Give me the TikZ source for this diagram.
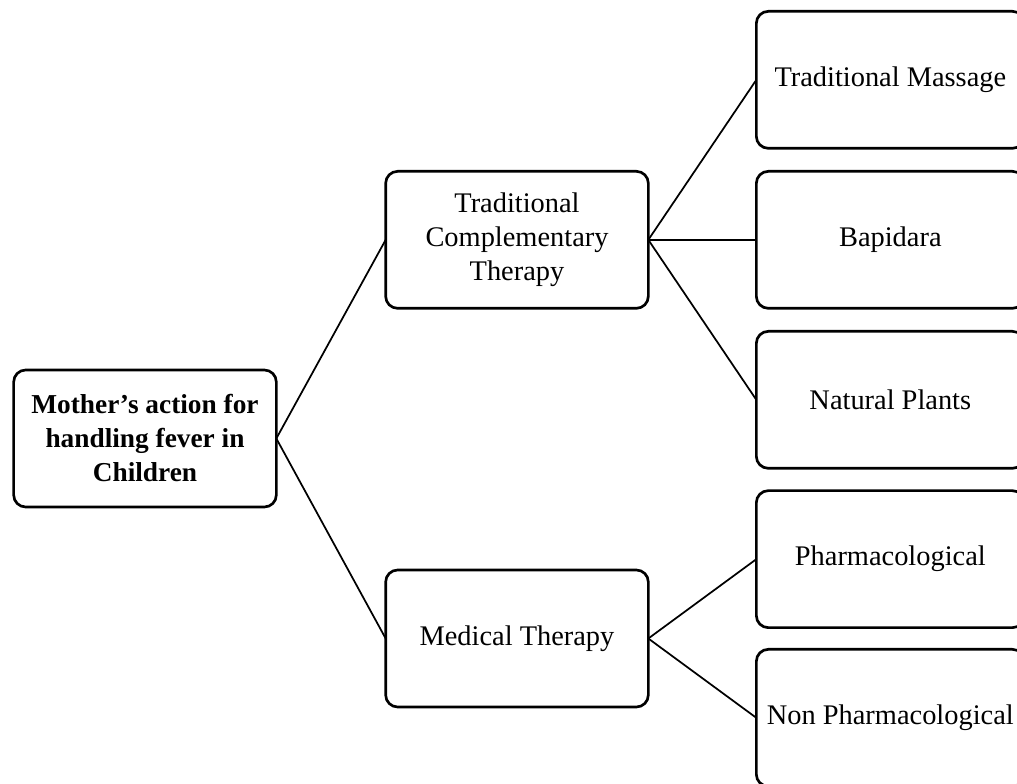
\documentclass[tikz,border=0pt]{standalone}
\usepackage{fontspec}
\setmainfont{Liberation Serif}
\usepackage{tikz}
\usetikzlibrary{positioning}

\begin{document}
\begin{tikzpicture}[node distance=120pt and 280pt, on grid,
    block/.style={draw, rounded corners=9pt, line width=2pt, align=center,
        minimum width=197pt, minimum height=102.75pt, outer sep=0pt,
        font=\fontsize{21.3}{25.5}\selectfont},
    leaf/.style={block, minimum width=201pt},
    link/.style={line width=1.3pt}]
    \useasboundingbox (-108.75pt,328.875pt) rectangle (654pt,-259.125pt);

    \node[block, font=\fontsize{20.5}{25.5}\selectfont\bfseries] (root) {Mother's action for\\handling fever in\\Children};
    \node[block] (tct) [above right=149pt and 279pt of root] {Traditional\\Complementary\\Therapy};
    \node[block] (mt) [below right=150pt and 279pt of root] {Medical Therapy};
    \node[leaf] (massage) [above right=of tct] {Traditional Massage};
    \node[leaf] (bapidara) [right=of tct] {Bapidara};
    \node[leaf] (plants) [below right=of tct] {Natural Plants};
    \node[leaf] (pharma) [above right=59.5pt and 280pt of mt] {Pharmacological};
    \node[leaf] (nonpharma) [below right=59.5pt and 280pt of mt] {Non Pharmacological};

    \path[link]
    (root.east) edge (tct.west)
        (root.east) edge (mt.west)
    (tct.east) edge (massage.west)
        (tct.east) edge (bapidara.west)
        (tct.east) edge (plants.west)
    (mt.east) edge (pharma.west)
        (mt.east) edge (nonpharma.west);
\end{tikzpicture}
\end{document}
